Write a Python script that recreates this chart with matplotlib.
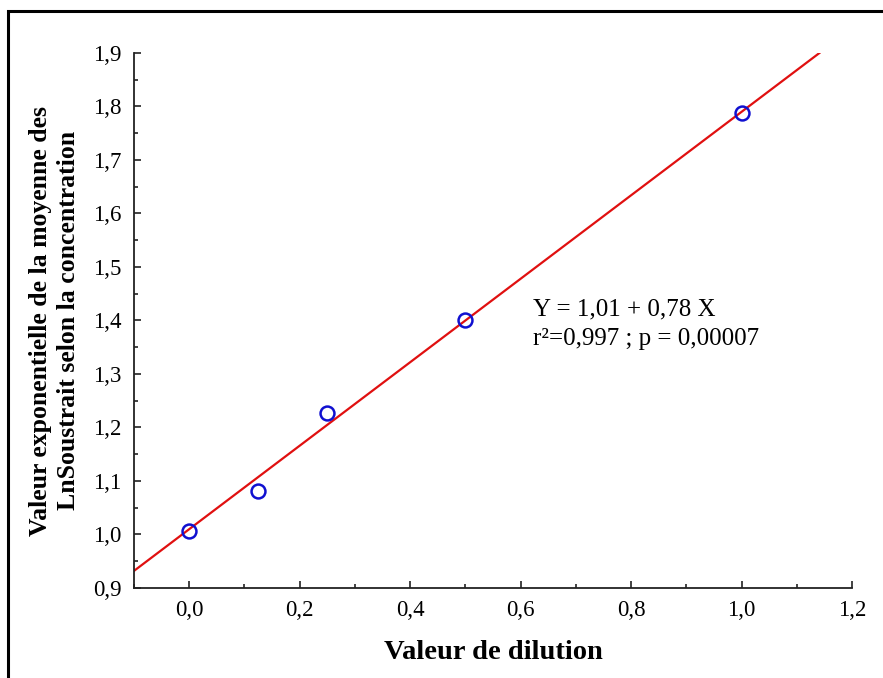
import matplotlib
matplotlib.use('Agg')
import matplotlib.pyplot as plt
from matplotlib.patches import Rectangle
from matplotlib.ticker import FuncFormatter, MultipleLocator
import numpy as np

# dilution values and mean exponential values
dilution = [0.0, 0.125, 0.25, 0.5, 1.0]
exp_mean = [1.007, 1.081, 1.227, 1.400, 1.788]

# regression printed on the chart
intercept = 1.01
slope = 0.78
fit_x_start = -0.1
fit_y_end = 1.9

eq_text = 'Y = 1,01 + 0,78 X\nr\u00b2=0,997 ; p = 0,00007'
x_label = 'Valeur de dilution'
y_label = 'Valeur exponentielle de la moyenne des\nLnSoustrait selon la concentration'

plt.rcParams['font.family'] = ['Liberation Serif', 'DejaVu Serif']


def comma_fmt(v, pos):
    return f'{v:.1f}'.replace('.', ',')


fig = plt.figure(figsize=(8.83, 6.78), dpi=100)
ax = fig.add_axes([134 / 883, 1 - 588 / 678, (852 - 134) / 883, (588 - 53) / 678])

fit_x = np.array([fit_x_start, (fit_y_end - intercept) / slope])
ax.plot(fit_x, intercept + slope * fit_x, color='#e01010', lw=1.6, zorder=2)
ax.plot(dilution, exp_mean, 'o', mfc='none', mec='#1010d0', ms=10, mew=1.8, zorder=3)

ax.set_xlim(-0.1, 1.2)
ax.set_ylim(0.9, 1.9)
ax.xaxis.set_major_locator(MultipleLocator(0.2))
ax.xaxis.set_minor_locator(MultipleLocator(0.1))
ax.yaxis.set_major_locator(MultipleLocator(0.1))
ax.yaxis.set_minor_locator(MultipleLocator(0.05))
ax.xaxis.set_major_formatter(FuncFormatter(comma_fmt))
ax.yaxis.set_major_formatter(FuncFormatter(comma_fmt))
ax.tick_params(which='both', direction='in', color='#222222', width=1.2, labelsize=16.5)
ax.tick_params(which='major', length=5)
ax.tick_params(which='minor', length=3)
ax.tick_params(axis='x', pad=9)
ax.tick_params(axis='y', pad=9)
for side in ['top', 'right']:
    ax.spines[side].set_visible(False)
for side in ['left', 'bottom']:
    ax.spines[side].set_linewidth(1.3)
    ax.spines[side].set_color('#222222')

ax.set_xlabel(x_label, fontsize=20.5, fontweight='bold', labelpad=13)
ax.set_ylabel(y_label, fontsize=18.5, fontweight='bold', labelpad=9, linespacing=1.3)

ax.text(533 / 883, 1 - 345 / 678, eq_text, transform=fig.transFigure,
        fontsize=18, va='baseline', ha='left', linespacing=1.45)

# outer frame of the exported picture
fig.patches.append(Rectangle((8 / 883, -0.05), 1.2, (1 - 11 / 678) + 0.05,
                             transform=fig.transFigure, fill=False,
                             edgecolor='black', lw=2.2))

fig.savefig('out.png', dpi=100)
